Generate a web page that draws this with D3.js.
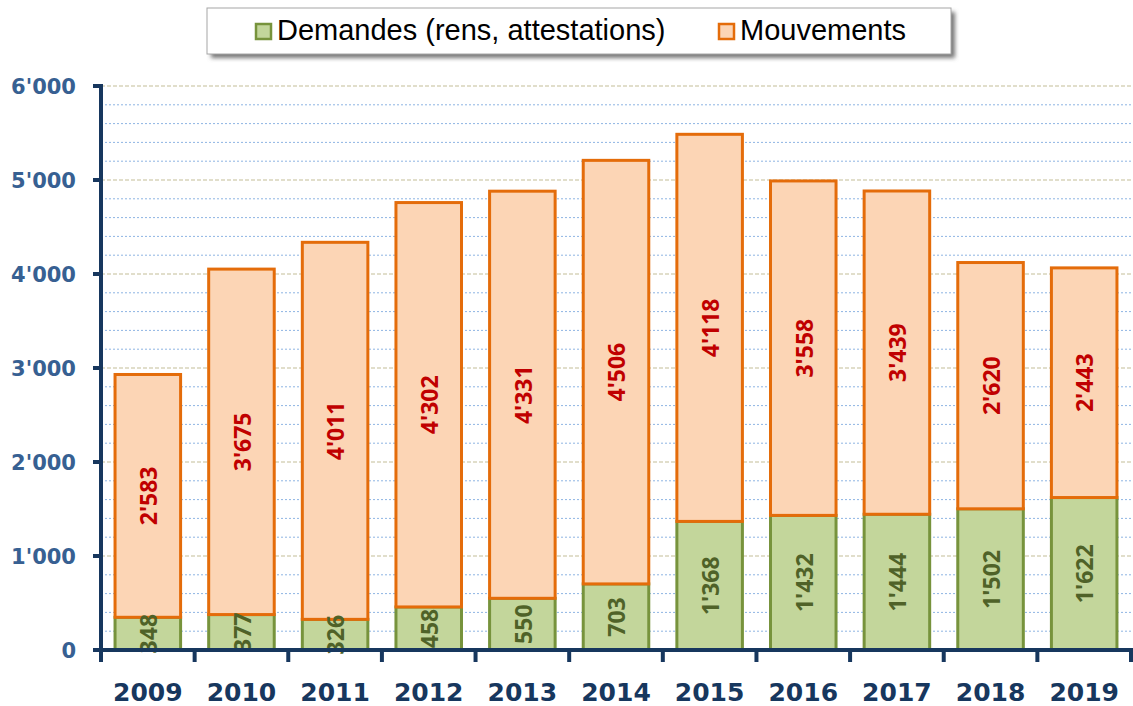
<!DOCTYPE html>
<html><head><meta charset="utf-8">
<script src="https://cdn.jsdelivr.net/npm/d3@7"></script>
<style>body{margin:0;background:#fff}svg{display:block}</style>
</head><body>
<svg id="c" width="1133" height="706"></svg>
<script>
const years = ["2009","2010","2011","2012","2013","2014","2015","2016","2017","2018","2019"];
const demandes = [348,377,326,458,550,703,1368,1432,1444,1502,1622];
const mouvements = [2583,3675,4011,4302,4331,4506,4118,3558,3439,2620,2443];
const seriesNames = ["Demandes (rens, attestations)","Mouvements"];
const yTicks = [0,1000,2000,3000,4000,5000,6000];

const svg = d3.select("#c");
const L = 101, R = 1131, T = 86, B = 650;
const x = d3.scaleBand().domain(years).range([L,R]).paddingInner(0.3).paddingOuter(0.15);
const xb = d3.scaleBand().domain(years).range([L,R]);
const y = d3.scaleLinear().domain([0,6000]).range([B,T]);
const loc = d3.formatLocale({decimal:".",thousands:"'",grouping:[3],currency:["",""]});
const fmt = loc.format(",d");

// gridlines
const minor = d3.range(200,6001,200).filter(v=>v%1000!==0);
svg.append("g").selectAll("line").data(minor).join("line")
  .attr("x1",L).attr("x2",R).attr("y1",d=>y(d)).attr("y2",d=>y(d))
  .attr("stroke","#8eb4e3").attr("stroke-width",1).attr("stroke-dasharray","2,2");
svg.append("g").selectAll("line").data(yTicks.filter(v=>v>0)).join("line")
  .attr("x1",L).attr("x2",R).attr("y1",d=>y(d)).attr("y2",d=>y(d))
  .attr("stroke","#c4bd97").attr("stroke-width",1.2).attr("stroke-dasharray","4,2");

const data = years.map((yr,i)=>({yr,d:demandes[i],m:mouvements[i]}));
const g = svg.append("g");
// green
g.selectAll("rect.g").data(data).join("rect").attr("class","g")
  .attr("x",d=>x(d.yr)).attr("width",x.bandwidth())
  .attr("y",d=>y(d.d)).attr("height",d=>y(0)-y(d.d))
  .attr("fill","#c3d69b").attr("stroke","#77933c").attr("stroke-width",3);
// orange
g.selectAll("rect.o").data(data).join("rect").attr("class","o")
  .attr("x",d=>x(d.yr)).attr("width",x.bandwidth())
  .attr("y",d=>y(d.d+d.m)).attr("height",d=>y(d.d)-y(d.d+d.m))
  .attr("fill","#fcd5b5").attr("stroke","#e46c0a").attr("stroke-width",3);

// labels
const lab = (sel,cy,txt,col)=>sel.append("text")
  .attr("transform",d=>`translate(${x(d.yr)+x.bandwidth()/2+1},${cy(d)}) rotate(-90)`)
  .attr("text-anchor","middle").attr("dy","0.36em")
  .attr("font-family","Noto Sans, sans-serif").attr("font-weight","bold").attr("font-size",23)
  .attr("fill",col).text(txt);
const lg = svg.append("g").selectAll("g").data(data).join("g");
lab(lg,d=>y(d.d/2),d=>fmt(d.d),"#4f6228");
lab(lg,d=>y(d.d+d.m/2),d=>fmt(d.m),"#c00000");

// axes
const axC = "#17375e";
svg.append("line").attr("x1",L).attr("x2",L).attr("y1",T-2).attr("y2",B+12)
  .attr("stroke",axC).attr("stroke-width",4);
svg.append("line").attr("x1",L-8).attr("x2",R+2).attr("y1",B).attr("y2",B)
  .attr("stroke",axC).attr("stroke-width",4);
svg.append("g").selectAll("line").data(yTicks).join("line")
  .attr("x1",L-8).attr("x2",L).attr("y1",d=>y(d)).attr("y2",d=>y(d))
  .attr("stroke",axC).attr("stroke-width",4);
svg.append("g").selectAll("line").data(years).join("line")
  .attr("x1",d=>xb(d)+xb.bandwidth()).attr("x2",d=>xb(d)+xb.bandwidth())
  .attr("y1",B).attr("y2",B+12).attr("stroke",axC).attr("stroke-width",4);
svg.append("g").selectAll("text").data(yTicks).join("text")
  .attr("x",76).attr("y",d=>y(d)).attr("dy","0.36em").attr("text-anchor","end")
  .attr("font-family","DejaVu Sans, sans-serif").attr("font-weight","bold").attr("font-size",21)
  .attr("fill","#376092").text(d=>fmt(d));
svg.append("g").selectAll("text").data(years).join("text")
  .attr("x",d=>xb(d)+xb.bandwidth()/2).attr("y",701).attr("text-anchor","middle")
  .attr("font-family","DejaVu Sans, sans-serif").attr("font-weight","bold").attr("font-size",25)
  .attr("fill",axC).text(d=>d);

// legend
const defs = svg.append("defs");
const f = defs.append("filter").attr("id","sh").attr("x","-10%").attr("y","-50%").attr("width","120%").attr("height","200%");
f.append("feGaussianBlur").attr("stdDeviation",2);
svg.append("rect").attr("x",211).attr("y",12).attr("width",744).attr("height",46)
  .attr("fill","#777").attr("filter","url(#sh)");
svg.append("rect").attr("x",207).attr("y",8).attr("width",744).attr("height",46)
  .attr("fill","#fff").attr("stroke","#a6a6a6").attr("stroke-width",1);
const legItems = [
  {name:seriesNames[0],fill:"#c3d69b",stroke:"#77933c",sx:256,tx:277},
  {name:seriesNames[1],fill:"#fcd5b5",stroke:"#e46c0a",sx:719,tx:740}];
const li = svg.append("g").selectAll("g").data(legItems).join("g");
li.append("rect").attr("x",d=>d.sx).attr("y",24).attr("width",15).attr("height",15)
  .attr("fill",d=>d.fill).attr("stroke",d=>d.stroke).attr("stroke-width",2.5);
li.append("text").attr("x",d=>d.tx).attr("y",40)
  .attr("font-family","Liberation Sans, Arial, sans-serif").attr("font-size",29)
  .attr("fill","#000").text(d=>d.name);
</script>
</body></html>
